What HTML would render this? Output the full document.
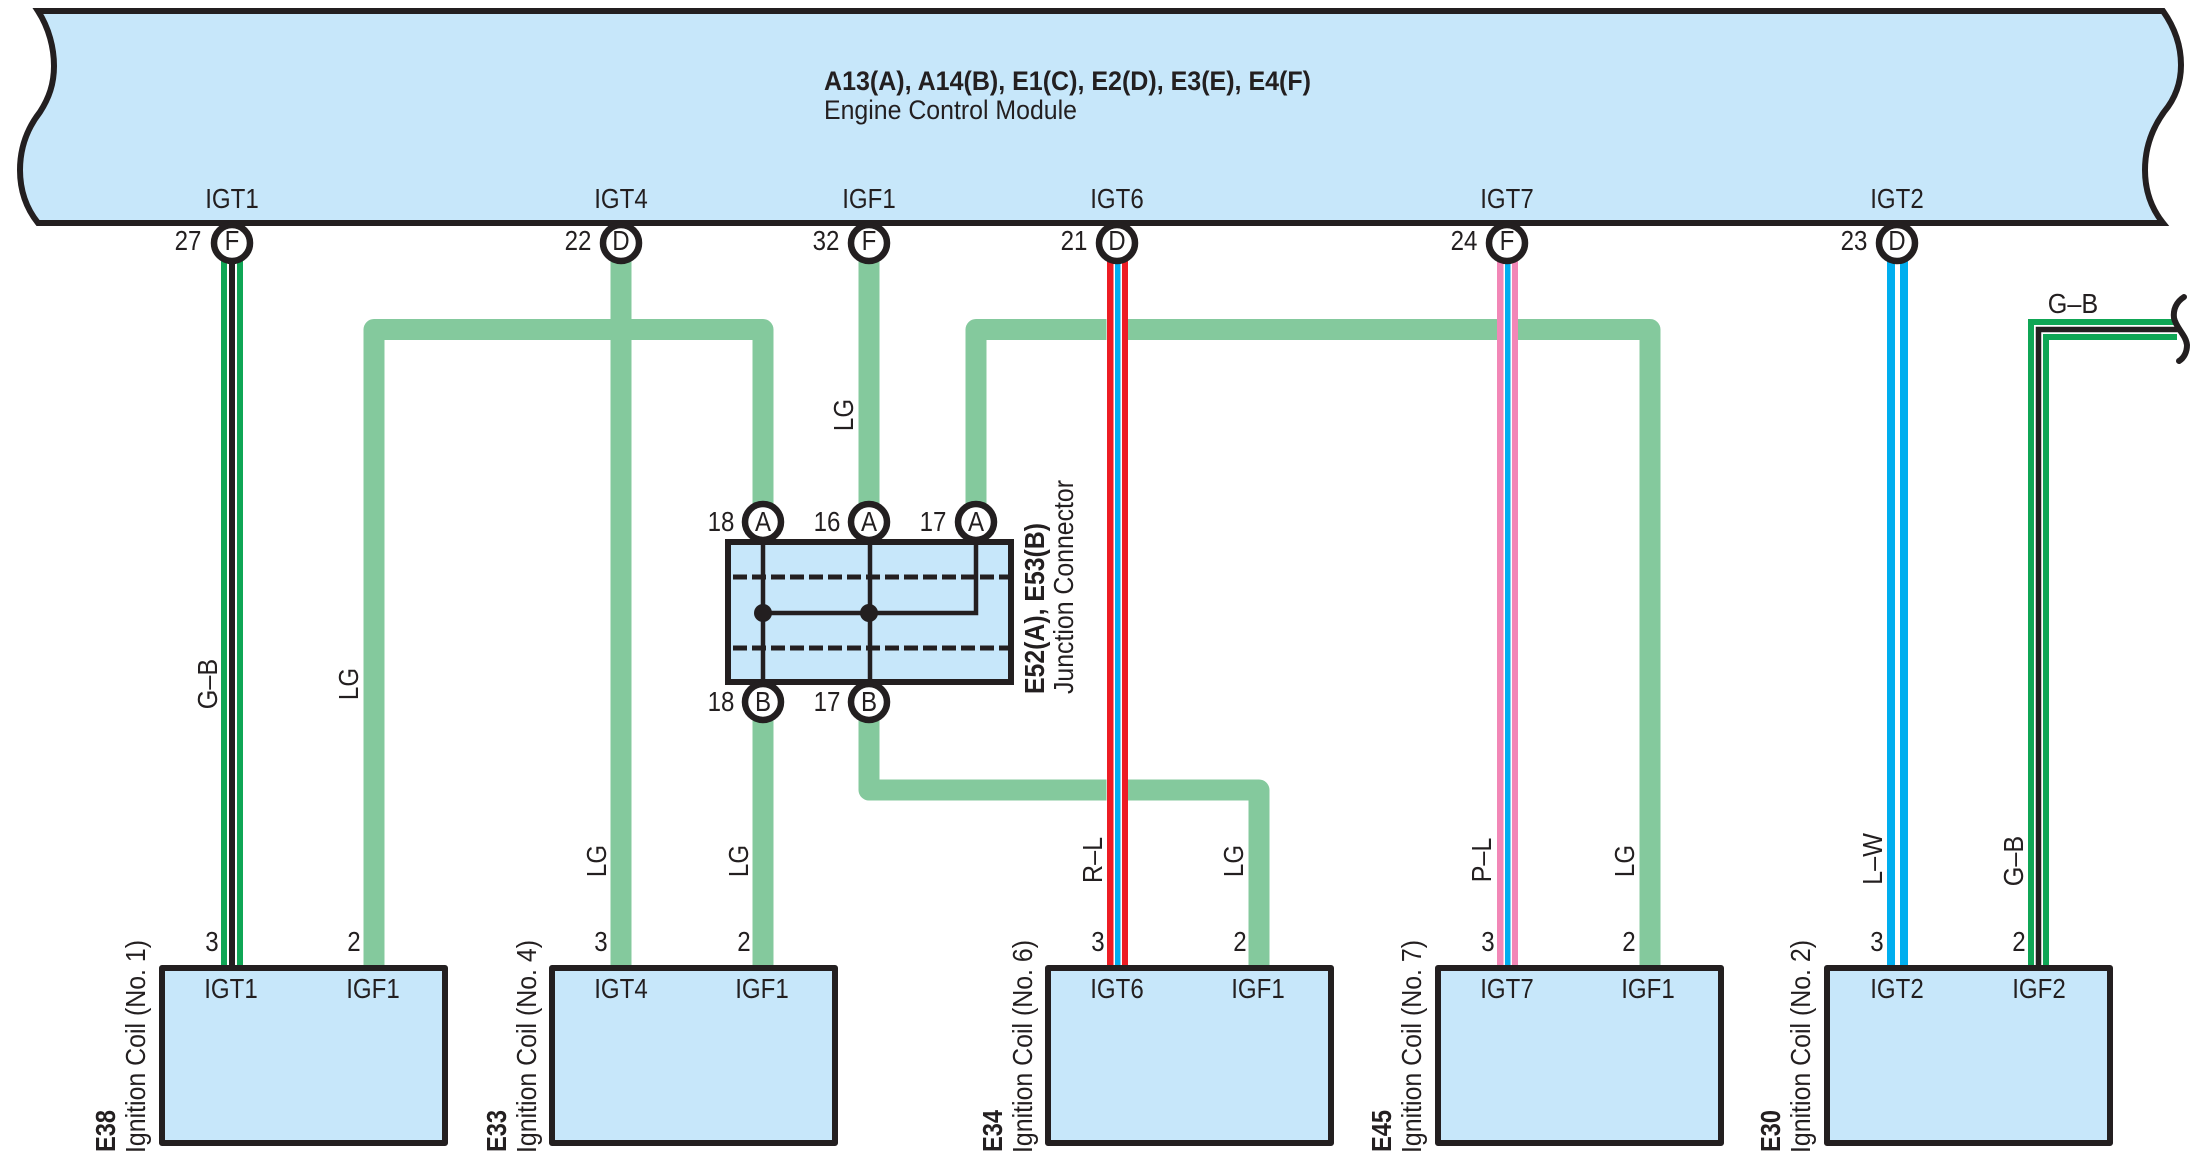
<!DOCTYPE html>
<html><head><meta charset="utf-8"><style>
html,body{margin:0;padding:0;background:#fff}
svg{display:block}
text{font-family:"Liberation Sans",sans-serif;font-size:28px;fill:#231f20}
.m{text-anchor:middle}
.b{font-weight:bold}
.h{font-size:27px}
</style></head><body>
<svg width="2202" height="1158" viewBox="0 0 2202 1158" xmlns="http://www.w3.org/2000/svg">
<rect width="2202" height="1158" fill="#fff"/>
<!-- ECM -->
<path d="M38 11H2163C2175 28 2181 46 2181 65C2181 84 2174 100 2164 112C2151 130 2145 150 2145 170C2145 190 2151 208 2163 223H38C26 208 20 190 20 170C20 150 26 130 40 112C49 98 54 84 54 66C54 48 49 28 38 11Z" fill="#c7e7fa" stroke="#231f20" stroke-width="6" stroke-linejoin="miter"/>
<text transform="translate(824 90)" class="b h" textLength="487" lengthAdjust="spacingAndGlyphs">A13(A), A14(B), E1(C), E2(D), E3(E), E4(F)</text>
<text transform="translate(824 119)" class="h" textLength="253" lengthAdjust="spacingAndGlyphs">Engine Control Module</text>
<!-- LG wires -->
<g fill="none" stroke="#84c99d" stroke-width="21" stroke-linejoin="round">
<path d="M374 965V329.5H763V510"/>
<path d="M621 260V965"/>
<path d="M869 260V510"/>
<path d="M976 510V329.5H1650V965"/>
<path d="M763 715V965"/>
<path d="M869 715V790H1259V965"/>
</g>
<!-- striped wires -->
<g>
<rect x="221" y="260" width="22" height="705" fill="#fff"/>
<rect x="221" y="260" width="6" height="705" fill="#0fa655"/><rect x="229" y="260" width="6" height="705" fill="#231f20"/><rect x="237" y="260" width="6" height="705" fill="#0fa655"/>
<rect x="1106.500" y="260" width="21" height="705" fill="#fff"/>
<rect x="1107" y="260" width="6.500" height="705" fill="#ed1c24"/><rect x="1115" y="260" width="5.500" height="705" fill="#00aeef"/><rect x="1122" y="260" width="6" height="705" fill="#ed1c24"/>
<rect x="1497" y="260" width="21" height="705" fill="#fff"/>
<rect x="1497" y="260" width="6.500" height="705" fill="#f287b7"/><rect x="1505" y="260" width="5.500" height="705" fill="#00aeef"/><rect x="1512" y="260" width="6" height="705" fill="#f287b7"/>
<rect x="1887" y="260" width="8" height="705" fill="#00aeef"/><rect x="1900" y="260" width="8" height="705" fill="#00aeef"/>
<path d="M2177 322H2031V965M2177 337H2046V965" fill="none" stroke="#0fa655" stroke-width="6"/>
<path d="M2180 329.500H2038.500V965" fill="none" stroke="#231f20" stroke-width="5.500"/>
<path d="M2184 297C2176 302 2173 310 2174 318C2176 328 2186 335 2187 345C2187 352 2184 358 2179 361" fill="none" stroke="#231f20" stroke-width="6" stroke-linecap="round"/>
</g>
<!-- ECM connectors -->
<g fill="#fff" stroke="#231f20" stroke-width="6.500">
<circle cx="232" cy="243" r="18"/><circle cx="621" cy="243" r="18"/><circle cx="869" cy="243" r="18"/><circle cx="1117" cy="243" r="18"/><circle cx="1507" cy="243" r="18"/><circle cx="1897" cy="243" r="18"/>
</g>
<!-- junction -->
<rect x="728" y="542" width="283" height="140" fill="#c7e7fa" stroke="#231f20" stroke-width="6"/>
<g fill="none" stroke="#231f20" stroke-width="4.500">
<path d="M763 539V685M870 539V685M976 539V613H763"/>
<path d="M733 577H1008M733 648H1008" stroke-dasharray="14 5" stroke-width="5"/>
</g>
<circle cx="763" cy="613" r="9" fill="#231f20"/><circle cx="869" cy="613" r="9" fill="#231f20"/>
<g fill="#fff" stroke="#231f20" stroke-width="6.500">
<circle cx="763" cy="522" r="18"/><circle cx="869" cy="522" r="18"/><circle cx="976" cy="522" r="18"/>
<circle cx="763" cy="702" r="18"/><circle cx="869" cy="702" r="18"/>
</g>
<!-- coil boxes -->
<g fill="#c7e7fa" stroke="#231f20" stroke-width="6" stroke-linejoin="round">
<rect x="162" y="968" width="283" height="175"/>
<rect x="552" y="968" width="283" height="175"/>
<rect x="1048" y="968" width="283" height="175"/>
<rect x="1438" y="968" width="283" height="175"/>
<rect x="1827" y="968" width="283" height="175"/>
</g>
<!-- ECM pin labels -->
<g class="m">
<text class="m" transform="translate(232 208) scale(.86 1)">IGT1</text>
<text class="m" transform="translate(621 208) scale(.86 1)">IGT4</text>
<text class="m" transform="translate(869 208) scale(.86 1)">IGF1</text>
<text class="m" transform="translate(1117 208) scale(.86 1)">IGT6</text>
<text class="m" transform="translate(1507 208) scale(.86 1)">IGT7</text>
<text class="m" transform="translate(1897 208) scale(.86 1)">IGT2</text>
<text class="m" transform="translate(188 250) scale(.86 1)">27</text><text class="m" transform="translate(232 250) scale(.86 1)">F</text>
<text class="m" transform="translate(578 250) scale(.86 1)">22</text><text class="m" transform="translate(621 250) scale(.86 1)">D</text>
<text class="m" transform="translate(826 250) scale(.86 1)">32</text><text class="m" transform="translate(869 250) scale(.86 1)">F</text>
<text class="m" transform="translate(1074 250) scale(.86 1)">21</text><text class="m" transform="translate(1117 250) scale(.86 1)">D</text>
<text class="m" transform="translate(1464 250) scale(.86 1)">24</text><text class="m" transform="translate(1507 250) scale(.86 1)">F</text>
<text class="m" transform="translate(1854 250) scale(.86 1)">23</text><text class="m" transform="translate(1897 250) scale(.86 1)">D</text>
<!-- junction labels -->
<text class="m" transform="translate(721 531) scale(.86 1)">18</text><text class="m" transform="translate(763 531) scale(.86 1)">A</text>
<text class="m" transform="translate(827 531) scale(.86 1)">16</text><text class="m" transform="translate(869 531) scale(.86 1)">A</text>
<text class="m" transform="translate(933 531) scale(.86 1)">17</text><text class="m" transform="translate(976 531) scale(.86 1)">A</text>
<text class="m" transform="translate(721 711) scale(.86 1)">18</text><text class="m" transform="translate(763 711) scale(.86 1)">B</text>
<text class="m" transform="translate(827 711) scale(.86 1)">17</text><text class="m" transform="translate(869 711) scale(.86 1)">B</text>
<!-- coil numbers -->
<text class="m" transform="translate(212 951) scale(.86 1)">3</text><text class="m" transform="translate(354 951) scale(.86 1)">2</text>
<text class="m" transform="translate(601 951) scale(.86 1)">3</text><text class="m" transform="translate(744 951) scale(.86 1)">2</text>
<text class="m" transform="translate(1098 951) scale(.86 1)">3</text><text class="m" transform="translate(1240 951) scale(.86 1)">2</text>
<text class="m" transform="translate(1488 951) scale(.86 1)">3</text><text class="m" transform="translate(1629 951) scale(.86 1)">2</text>
<text class="m" transform="translate(1877 951) scale(.86 1)">3</text><text class="m" transform="translate(2019 951) scale(.86 1)">2</text>
<!-- coil pin labels -->
<text class="m" transform="translate(231 998) scale(.86 1)">IGT1</text><text class="m" transform="translate(373 998) scale(.86 1)">IGF1</text>
<text class="m" transform="translate(621 998) scale(.86 1)">IGT4</text><text class="m" transform="translate(762 998) scale(.86 1)">IGF1</text>
<text class="m" transform="translate(1117 998) scale(.86 1)">IGT6</text><text class="m" transform="translate(1258 998) scale(.86 1)">IGF1</text>
<text class="m" transform="translate(1507 998) scale(.86 1)">IGT7</text><text class="m" transform="translate(1648 998) scale(.86 1)">IGF1</text>
<text class="m" transform="translate(1897 998) scale(.86 1)">IGT2</text><text class="m" transform="translate(2039 998) scale(.86 1)">IGF2</text>
<!-- wire colour labels -->
<text class="m" transform="translate(217 684) rotate(-90) scale(.9 1)">G–B</text>
<text class="m" transform="translate(358 684) rotate(-90) scale(.86 1)">LG</text>
<text class="m" transform="translate(606 861) rotate(-90) scale(.86 1)">LG</text>
<text class="m" transform="translate(748 861) rotate(-90) scale(.86 1)">LG</text>
<text class="m" transform="translate(1102 860) rotate(-90) scale(.9 1)">R–L</text>
<text class="m" transform="translate(1243 861) rotate(-90) scale(.86 1)">LG</text>
<text class="m" transform="translate(1491 860) rotate(-90) scale(.9 1)">P–L</text>
<text class="m" transform="translate(1634 861) rotate(-90) scale(.86 1)">LG</text>
<text class="m" transform="translate(1882 859) rotate(-90) scale(.9 1)">L–W</text>
<text class="m" transform="translate(2023 861) rotate(-90) scale(.9 1)">G–B</text>
<text class="m" transform="translate(853 415) rotate(-90) scale(.86 1)">LG</text>
<text class="m" transform="translate(2073 313) scale(.9 1)">G–B</text>
</g>
<!-- vertical component labels -->
<text transform="translate(1044 694) rotate(-90)" class="b" textLength="171" lengthAdjust="spacingAndGlyphs">E52(A), E53(B)</text>
<text transform="translate(1073 694) rotate(-90)" textLength="214" lengthAdjust="spacingAndGlyphs">Junction Connector</text>
<text transform="translate(115 1152) rotate(-90)" class="b" textLength="42" lengthAdjust="spacingAndGlyphs">E38</text>
<text transform="translate(145 1153) rotate(-90)" textLength="213" lengthAdjust="spacingAndGlyphs">Ignition Coil (No. 1)</text>
<text transform="translate(506 1152) rotate(-90)" class="b" textLength="42" lengthAdjust="spacingAndGlyphs">E33</text>
<text transform="translate(536 1153) rotate(-90)" textLength="213" lengthAdjust="spacingAndGlyphs">Ignition Coil (No. 4)</text>
<text transform="translate(1002 1152) rotate(-90)" class="b" textLength="42" lengthAdjust="spacingAndGlyphs">E34</text>
<text transform="translate(1032 1153) rotate(-90)" textLength="213" lengthAdjust="spacingAndGlyphs">Ignition Coil (No. 6)</text>
<text transform="translate(1391 1152) rotate(-90)" class="b" textLength="42" lengthAdjust="spacingAndGlyphs">E45</text>
<text transform="translate(1421 1153) rotate(-90)" textLength="213" lengthAdjust="spacingAndGlyphs">Ignition Coil (No. 7)</text>
<text transform="translate(1780 1152) rotate(-90)" class="b" textLength="42" lengthAdjust="spacingAndGlyphs">E30</text>
<text transform="translate(1810 1153) rotate(-90)" textLength="213" lengthAdjust="spacingAndGlyphs">Ignition Coil (No. 2)</text>
</svg>
</body></html>
